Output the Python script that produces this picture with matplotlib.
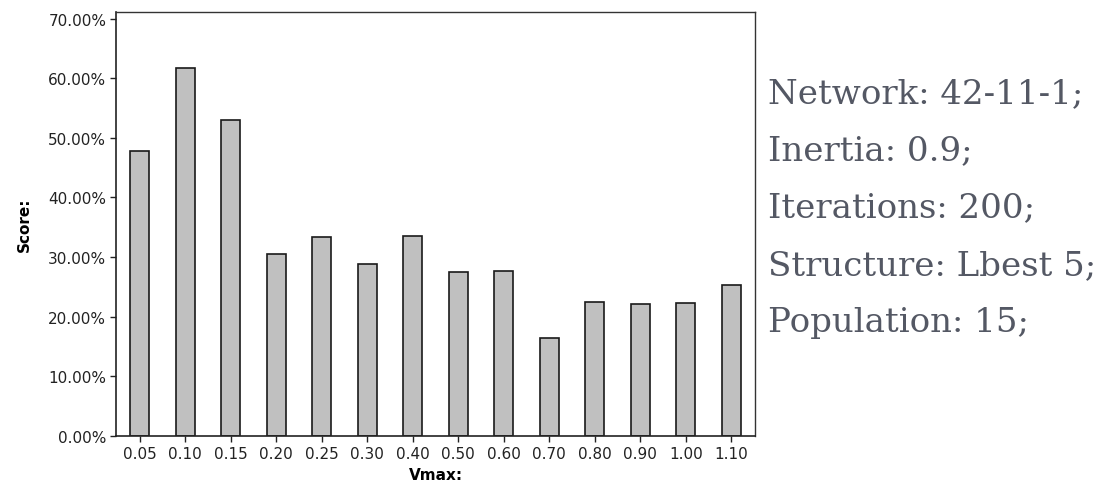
import matplotlib
matplotlib.use("Agg")
import matplotlib.pyplot as plt
from matplotlib.ticker import FuncFormatter

categories = ["0.05", "0.10", "0.15", "0.20", "0.25", "0.30", "0.40",
              "0.50", "0.60", "0.70", "0.80", "0.90", "1.00", "1.10"]
scores = [47.8, 61.7, 53.0, 30.5, 33.4, 28.9, 33.6,
          27.5, 27.7, 16.4, 22.5, 22.1, 22.3, 25.3]
info_lines = ["Network: 42-11-1;", "Inertia: 0.9;", "Iterations: 200;",
              "Structure: Lbest 5;", "Population: 15;"]

fig = plt.figure(figsize=(11.18, 4.89), dpi=100)
ax = fig.add_axes([116/1118, 52/489, 639/1118, 424/489])

x = list(range(len(categories)))
ax.bar(x, scores, width=0.41, color="#c0c0c0", edgecolor="#1a1a1a", linewidth=1.2)
ax.set_xlim(-0.52, len(categories) - 0.48)
ax.set_ylim(0, 71.1)
ax.set_yticks([0, 10, 20, 30, 40, 50, 60, 70])
ax.yaxis.set_major_formatter(FuncFormatter(lambda v, p: f"{v:.2f}%"))
ax.set_xticks(x)
ax.set_xticklabels(categories)
ax.tick_params(axis="both", direction="out", length=4, width=1, labelsize=11,
               colors="#222222", labelcolor="#222222")
ax.tick_params(axis="y", pad=3)
ax.set_xlabel("Vmax:", fontsize=11, fontweight="bold", labelpad=4)
ax.set_ylabel("Score:", fontsize=11, fontweight="bold", labelpad=12)
for s in ["left", "bottom"]:
    ax.spines[s].set_color("#222222")
    ax.spines[s].set_linewidth(1.2)
for s in ["top", "right"]:
    ax.spines[s].set_color("#333333")
    ax.spines[s].set_linewidth(1.0)

baselines = [103, 160, 217, 275, 332]
for line, yb in zip(info_lines, baselines):
    fig.text(768/1118, 1 - yb/489, line, fontsize=24.5, family="DejaVu Serif",
             color="#545864", ha="left", va="baseline")

fig.savefig("out.png", dpi=100)
